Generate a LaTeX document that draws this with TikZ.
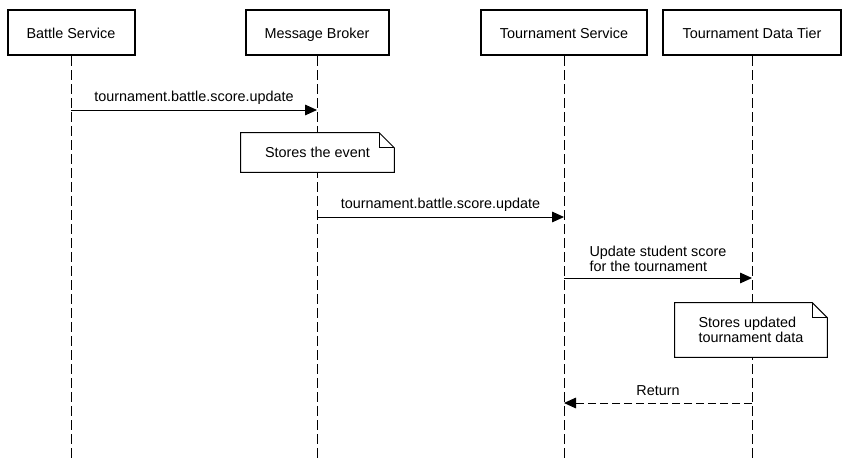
\documentclass[tikz,border=0pt]{standalone}
\usepackage{fontspec}
\setmainfont{Liberation Sans}
\usetikzlibrary{arrows.meta}
\begin{document}
\begin{tikzpicture}[x=0.75pt,y=-0.75pt,
  font=\fontsize{10.8}{11.25}\selectfont,
  actor/.style={draw, line width=1.5pt, minimum height=33.75pt, inner sep=0pt, fill=white, text height=9pt, text depth=0.4pt},
  lifeline/.style={line width=0.75pt, dash pattern=on 7.5pt off 3pt},
  msg/.style={line width=0.75pt, -{Triangle[length=9pt,width=8pt]}},
  retmsg/.style={msg, dash pattern=on 6pt off 3pt},
  notebox/.style={inner sep=0pt, draw=none},
  notepath/.style={line width=0.75pt, fill=white},
  lbl/.style={midway, yshift=9pt, inner sep=0pt}
]
\useasboundingbox[fill=white] (0,0) rectangle (848,460);
\coordinate (bottom) at (0,460);
% heads
\node[actor, minimum width=95.25pt] (bs) at (71,32.5) {Battle Service};
\node[actor, minimum width=107.25pt] (mb) at (317,32.5) {Message Broker};
\node[actor, minimum width=124.5pt] (ts) at (564,32.5) {Tournament Service};
\node[actor, minimum width=133.5pt] (dt) at (752,32.5) {Tournament Data Tier};
% lifelines
\draw[lifeline] (bs.south) -- (bs.south |- bottom);
\draw[lifeline] (mb.south) -- (mb.south |- bottom);
\draw[lifeline] (ts.south) -- (ts.south |- bottom);
\draw[lifeline] (dt.south) -- (dt.south |- bottom);
% levels
\coordinate (y1) at (0,110);
\coordinate (y2) at (0,217);
\coordinate (y3) at (0,278);
\coordinate (y4) at (0,403);
% messages
\draw[msg] (bs.south |- y1) -- (mb.south |- y1) node[lbl] {tournament.battle.score.update};
\draw[msg] (mb.south |- y2) -- (ts.south |- y2) node[lbl] {tournament.battle.score.update};
\draw[msg] (ts.south |- y3) -- (dt.south |- y3) node[lbl, yshift=5pt, align=left] {Update student score\\for the tournament};
\draw[retmsg] (dt.south |- y4) -- (ts.south |- y4) node[lbl] {Return};
% note 1
\node[notebox, minimum width=114.75pt, minimum height=29.25pt] (n1) at (317.5,152.5) {};
\draw[notepath] (n1.north west) -- ([xshift=-11.25pt]n1.north east) -- ([yshift=-11.25pt]n1.north east) -- (n1.south east) -- (n1.south west) -- cycle;
\draw[line width=0.75pt] ([xshift=-11.25pt]n1.north east) -- ([xshift=-11.25pt,yshift=-11.25pt]n1.north east) -- ([yshift=-11.25pt]n1.north east);
\node[inner sep=0pt] (n1t) at (n1.center) {Stores the event};
% note 2
\node[notebox, minimum width=114pt, minimum height=40.5pt] (n2) at (751,330) {};
\draw[notepath] (n2.north west) -- ([xshift=-11.25pt]n2.north east) -- ([yshift=-11.25pt]n2.north east) -- (n2.south east) -- (n2.south west) -- cycle;
\draw[line width=0.75pt] ([xshift=-11.25pt]n2.north east) -- ([xshift=-11.25pt,yshift=-11.25pt]n2.north east) -- ([yshift=-11.25pt]n2.north east);
\node[inner sep=0pt, align=left] (n2t) at (n2.center) {Stores updated\\tournament data};
\end{tikzpicture}
\end{document}
